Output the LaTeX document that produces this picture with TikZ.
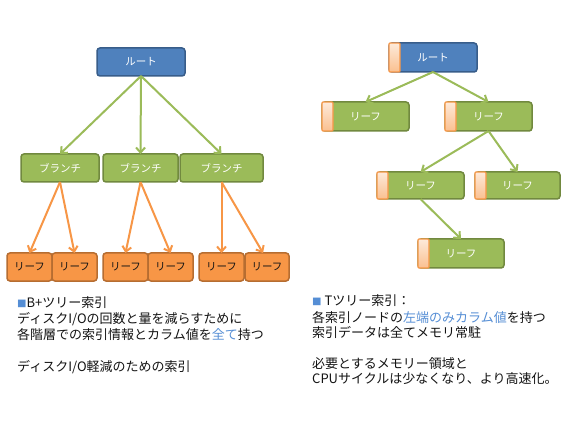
\documentclass[tikz,border=0pt]{standalone}
\usepackage{fontspec}
\setmainfont{Noto Sans CJK JP}
\usetikzlibrary{arrows.meta,calc}
\definecolor{rootblue}{HTML}{4F81BD}
\definecolor{rootedge}{HTML}{385D8A}
\definecolor{brgreen}{HTML}{9BBB59}
\definecolor{bredge}{HTML}{71893F}
\definecolor{lforange}{HTML}{F79646}
\definecolor{lfedge}{HTML}{B66D31}
\definecolor{tabtop}{HTML}{FDEADA}
\definecolor{tabbot}{HTML}{FAC090}
\definecolor{txtdark}{HTML}{141414}
\definecolor{hlblue}{HTML}{558ED5}
\begin{document}
\begin{tikzpicture}[x=1pt,y=-1pt,
 box/.style={rounded corners=3pt, line width=1.5pt, inner sep=0pt, outer sep=0pt, font=\fontsize{10.5}{12}\selectfont},
 rootbox/.style={box, fill=rootblue, draw=rootedge, text=white, minimum width=88pt, minimum height=28pt},
 branchbox/.style={box, fill=brgreen, draw=bredge, text=white, minimum height=28pt},
 leafbox/.style={box, fill=lforange, draw=lfedge, text=txtdark, minimum width=45pt, minimum height=28pt},
 tleaf/.style={box, fill=brgreen, draw=bredge, text=white, minimum width=87pt, minimum height=28pt},
 tabbox/.style={draw=lforange, line width=1.2pt, rounded corners=1pt, top color=tabtop, bottom color=tabbot},
 garrow/.style={draw=brgreen, line width=2pt, -{Straight Barb[length=5pt,width=9pt]}},
 oarrow/.style={draw=lforange, line width=2pt, -{Straight Barb[length=5pt,width=9pt]}},
 txt/.style={anchor=base west, inner sep=0pt, font=\fontsize{13}{16}\selectfont, text=txtdark},
]
\fill[white] (0,0) rectangle (580,435);
\useasboundingbox (0,0) rectangle (580,435);

% ---------- B+ tree ----------
\node[rootbox] (rootL) at (141,62) {ルート};
\node[branchbox, minimum width=78pt] (b1) at (60,168) {ブランチ};
\node[branchbox, minimum width=75pt] (b2) at (140.5,168) {ブランチ};
\node[branchbox, minimum width=83pt] (b3) at (221.5,168) {ブランチ};
\node[leafbox] (l1) at (29.5,267) {リーフ};
\node[leafbox] (l2) at (74.5,267) {リーフ};
\node[leafbox] (l3) at (125.5,267) {リーフ};
\node[leafbox] (l4) at (170.5,267) {リーフ};
\node[leafbox] (l5) at (221.5,267) {リーフ};
\node[leafbox, minimum width=44pt] (l6) at (267,267) {リーフ};

\draw[garrow] (rootL.south) -- (b1.north);
\draw[garrow] (rootL.south) -- (b2.north);
\draw[garrow] (rootL.south) -- (b3.north);
\draw[oarrow] (b1.south) -- (l1.north);
\draw[oarrow] (b1.south) -- (l2.north);
\draw[oarrow] (b2.south) -- (l3.north);
\draw[oarrow] (b2.south) -- (l4.north);
\draw[oarrow] (b3.south) -- (l5.north);
\draw[oarrow] (b3.south) -- ($(l6.north)+(-4,0)$);

% ---------- T tree ----------
\node[rootbox, minimum height=29pt] (rootR) at (433,57.5) {ルート};
\node[tleaf, minimum height=29pt] (ta) at (365.5,116.5) {リーフ};
\node[tleaf, minimum height=29pt] (tb) at (488.5,116.5) {リーフ};
\node[tleaf, minimum height=27pt] (tc) at (420.5,185.5) {リーフ};
\node[tleaf, minimum width=85pt, minimum height=27pt] (td) at (517.5,185.5) {リーフ};
\node[tleaf, minimum width=86pt, minimum height=29pt] (te) at (461,253.5) {リーフ};

\foreach \n in {rootR,ta,tb,tc,td,te}{
  \draw[tabbox] (\n.north west) rectangle ($(\n.south west)+(11,0)$);
}

\draw[garrow] (rootR.south) -- (ta.north);
\draw[garrow] (rootR.south) -- (tb.north);
\draw[garrow] (tb.south) -- (tc.north);
\draw[garrow] (tb.south) -- (td.north);
\draw[garrow] (tc.south) -- (te.north);

% ---------- texts ----------
\node[txt] (t1) at (17,307) {{\fontsize{9.5}{9}\selectfont\color{hlblue}■}B+ツリー索引};
\node[txt] (t2) at (17,323) {ディスクI/Oの回数と量を減らすために};
\node[txt] (t3) at (17,339) {各階層での索引情報とカラム値を{\color{hlblue}全て}持つ};
\node[txt] (t4) at (17,371) {ディスクI/O軽減のための索引};

\node[txt] (r1) at (312,305) {{\fontsize{9.5}{9}\selectfont\color{hlblue}■} Tツリー索引：};
\node[txt] (r2) at (312,322) {各索引ノードの{\color{hlblue}左端のみカラム値}を持つ};
\node[txt] (r3) at (312,337) {索引データは全てメモリ常駐};
\node[txt] (r4) at (312,368) {必要とするメモリー領域と};
\node[txt] (r5) at (312,383) {CPUサイクルは少なくなり、より高速化。};
\end{tikzpicture}
\end{document}
